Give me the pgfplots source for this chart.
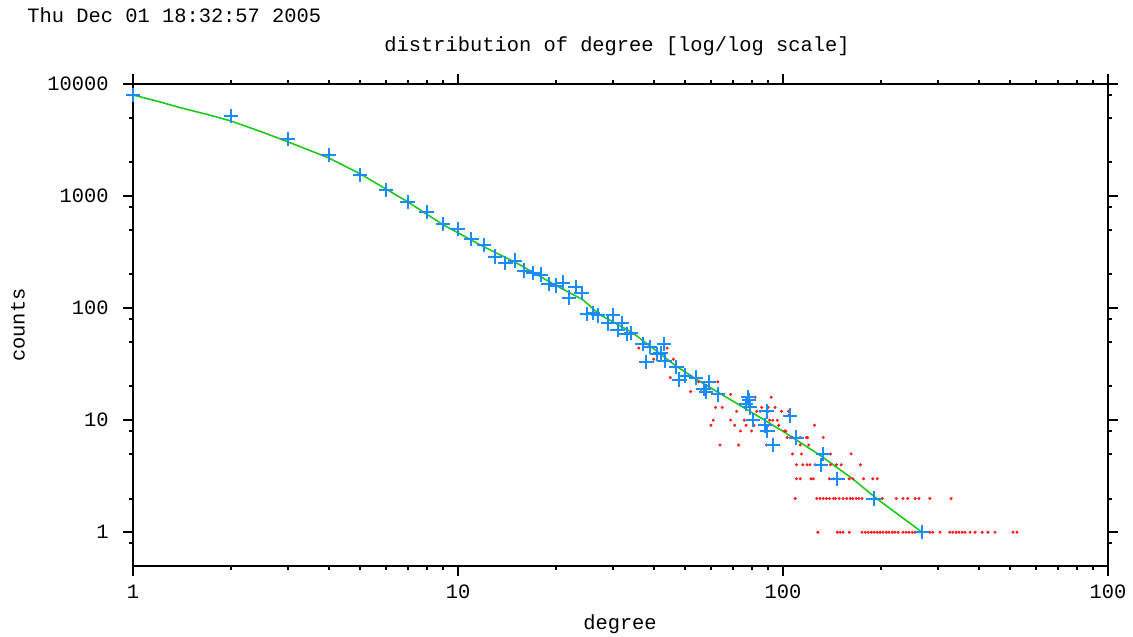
\documentclass[border=0pt]{standalone}
\usepackage{fontspec}
\setmainfont{Liberation Mono}
\usepackage{pgfplots}
\pgfplotsset{compat=1.18}
\definecolor{gpblue}{RGB}{25,140,255}
\definecolor{gpgreen}{RGB}{30,200,30}
\definecolor{gpred}{RGB}{255,30,30}
\newcommand{\gpfont}{\fontsize{10.2}{12}\selectfont}
\begin{document}
\begin{tikzpicture}
\path[use as bounding box] (0,0) rectangle (566.5pt,318pt);
\node[anchor=west,inner sep=0pt,font=\gpfont] at (13.5pt,310.5pt) {Thu Dec 01 18:32:57 2005};
\node[inner sep=0pt,font=\gpfont] at (308.5pt,295pt) {distribution of degree [log/log scale]};
\node[inner sep=0pt,font=\gpfont] at (310pt,6pt) {degree};
\node[inner sep=0pt,font=\gpfont,rotate=90] at (9pt,155.5pt) {counts};
\begin{axis}[
  at={(66.5pt,35pt)}, anchor=south west,
  scale only axis, width=487.5pt, height=241pt,
  xmode=log, ymode=log,
  xmin=1, xmax=1000, ymin=0.5, ymax=10000,
  axis line style={line width=1pt},
  every tick/.style={black, line width=1pt},
  tick align=outside,
  xtick pos=both, ytick pos=both,
  major tick length=5pt, minor tick length=2pt,
  xtick={1,10,100,1000}, xticklabels={1,10,100,100},
  minor xtick={2,3,4,5,6,7,8,9,20,30,40,50,60,70,80,90,200,300,400,500,600,700,800,900},
  ytick={1,10,100,1000,10000}, yticklabels={1,10,100,1000,10000},
  minor ytick={0.8,2,5,8,20,50,80,200,500,800,2000,5000,8000},
  tick label style={font=\gpfont, inner sep=0pt},
  xticklabel style={anchor=center, yshift=-8pt},
  yticklabel style={anchor=east, xshift=-7pt},
  clip=false,
]
\addplot[only marks, mark=*, mark size=0.55pt, color=gpred] coordinates {
(36,44) (40,35) (44,44) (46,35) (45,24) (52,18) (55,22) (56,18) (63,22) (69,17) (82,16) (92,16)
(62,13) (65,13) (86,13) (90,13) (94.5,13)
(72,12) (83,12) (85,12) (90,12) (99,12) (104,12)
(104,11)
(61,10) (69,10) (76,10) (91,10) (93,10) (96,10)
(60,9) (71,9) (77,9) (81.5,9) (90,9) (97,9) (125,9)
(74,8) (80,8) (88,8) (101,8) (102,8)
(103,7) (106,7) (107,7) (113,7) (118,7) (119,7) (133,7)
(64,6) (73,6) (89,6) (93,6) (113,6) (120,6)
(107,5) (114,5) (140,5) (162,5)
(110,4) (115,4) (118.5,4) (121,4) (125.5,4) (140,4) (146,4) (151,4) (173,4)
(110,3) (113,3) (122,3) (124,3) (139,3) (143,3) (160,3) (164,3) (177,3) (189,3) (195,3)
(109,2) (127,2) (130,2) (133,2) (136,2) (139,2) (143,2) (145,2) (149,2) (153,2) (157,2) (161,2) (164,2) (168,2) (171,2) (175,2) (202,2) (223,2) (234,2) (242,2) (255,2) (262,2) (283,2) (329,2)
(128,1) (147,1) (150,1) (153,1) (160,1) (175,1) (179,1) (183,1) (187,1) (191,1) (195,1) (199,1) (203,1) (208,1) (212,1) (217,1) (221,1) (226,1) (234,1) (239,1) (244,1) (250,1) (255,1) (283,1) (289,1) (304,1) (326,1) (333,1) (341,1) (348,1) (356,1) (363,1) (376,1) (390,1) (410,1) (427,1) (449,1) (510,1) (525,1)
};
\addplot[no marks, color=gpgreen, line width=0.8pt] coordinates {
(1,7980) (1.211,6918) (1.395,6150) (1.7,5330) (2,4680) (2.5,3720) (3,3043) (4,2192) (5,1578) (7,889) (9,554) (12,353) (15.1,254) (19.8,162) (24.2,119) (27.3,87.5) (34.4,60.5) (47.1,30.1) (55.6,22.1) (79.1,12) (101.3,7.78) (131.5,4.75) (164.5,2.97) (192,2.05) (229,1.40) (268,1)
};
\addplot[only marks, mark=+, mark size=3.6pt, color=gpblue, mark options={line width=1pt}] coordinates {
(1,7980) (2,5190) (3,3240) (4,2330) (5,1550) (6,1137) (7,889) (8,724) (9,566) (10,511) (11,416) (12,368) (13,288) (14,254) (15,265) (16,216) (17,207) (18,199) (19,165) (20,159) (21,169) (22,124) (23,155) (24,137) (25,89) (26,91) (27,86) (29,73) (30,86) (31,64) (32,74) (33,59) (34,60) (37,48) (38,33) (39,45) (41,39) (42,40) (43,48) (43.2,34) (47,30) (48,23) (50,25) (54,24) (59,22) (57,19) (58,18) (63,17) (78,16) (78.5,15) (77,14) (79,13) (81,10) (88,9) (89,12) (89.5,8) (93,6) (105,11) (110,7) (131,4) (133,5) (147,3) (190,2) (268,1)
};
\end{axis}
\end{tikzpicture}
\end{document}
